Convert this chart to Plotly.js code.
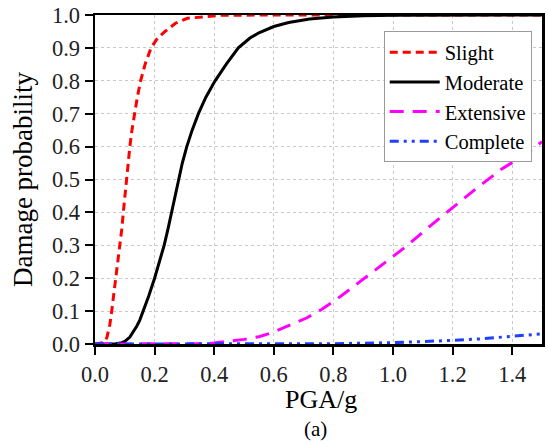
<!DOCTYPE html>
<html>
<head>
<meta charset="utf-8">
<script src="https://cdn.plot.ly/plotly-3.0.1.min.js"></script>
<style>
  html, body { margin: 0; padding: 0; background: #fff; }
  #chart { width: 548px; height: 447px; }
</style>
</head>
<body>
<div id="chart"></div>
<script>
// Values (PGA in g, probability of exceedance)
const slightX = [0.00, 0.03, 0.04, 0.05, 0.056, 0.063, 0.070, 0.077, 0.084, 0.090, 0.095, 0.100, 0.106, 0.111, 0.117, 0.124, 0.132, 0.142, 0.153, 0.168, 0.188, 0.21, 0.235, 0.27, 0.31, 0.36, 0.42, 0.60, 1.00, 1.50];
const slightY = [0.00, 0.004, 0.02, 0.06, 0.10, 0.15, 0.20, 0.25, 0.30, 0.35, 0.40, 0.45, 0.50, 0.55, 0.60, 0.65, 0.70, 0.75, 0.80, 0.85, 0.90, 0.93, 0.95, 0.975, 0.99, 0.995, 0.999, 1.00, 1.00, 1.00];

const moderateX = [0.00, 0.07, 0.09, 0.10, 0.117, 0.13, 0.14, 0.15, 0.162, 0.18, 0.20, 0.216, 0.232, 0.245, 0.257, 0.267, 0.28, 0.293, 0.308, 0.326, 0.347, 0.372, 0.403, 0.44, 0.481, 0.52, 0.55, 0.60, 0.65, 0.72, 0.80, 0.90, 1.00, 1.50];
const moderateY = [0.00, 0.0006, 0.004, 0.008, 0.021, 0.038, 0.054, 0.072, 0.10, 0.145, 0.20, 0.25, 0.30, 0.35, 0.40, 0.45, 0.50, 0.55, 0.60, 0.65, 0.70, 0.75, 0.80, 0.85, 0.90, 0.93, 0.946, 0.965, 0.977, 0.988, 0.994, 0.998, 0.999, 1.00];

const extensiveX = [0.00, 0.20, 0.30, 0.35, 0.40, 0.45, 0.50, 0.55, 0.59, 0.63, 0.66, 0.71, 0.76, 0.805, 0.887, 0.965, 1.043, 1.122, 1.202, 1.284, 1.365, 1.449, 1.50];
const extensiveY = [0.00, 0.00, 0.0005, 0.001, 0.003, 0.008, 0.014, 0.022, 0.033, 0.048, 0.060, 0.079, 0.105, 0.132, 0.188, 0.241, 0.296, 0.357, 0.417, 0.476, 0.532, 0.579, 0.615];

const completeX = [0.00, 0.60, 0.80, 1.00, 1.10, 1.20, 1.30, 1.36, 1.42, 1.50];
const completeY = [0.00, 0.00, 0.001, 0.004, 0.007, 0.011, 0.016, 0.021, 0.025, 0.031];

const seriesNames = ["Slight", "Moderate", "Extensive", "Complete"];
const xTitle = "PGA/g";
const yTitle = "Damage probability";
const panelLabel = "(a)";

const serif = "Liberation Serif";

const traces = [
  {x: slightX, y: slightY, name: seriesNames[0], mode: "lines",
   line: {color: "#ff0000", width: 3, dash: "8px,5px"}},
  {x: moderateX, y: moderateY, name: seriesNames[1], mode: "lines",
   line: {color: "#000000", width: 3}},
  {x: extensiveX, y: extensiveY, name: seriesNames[2], mode: "lines",
   line: {color: "#ff00ff", width: 3, dash: "14px,9px"}},
  {x: completeX, y: completeY, name: seriesNames[3], mode: "lines",
   line: {color: "#1f3fff", width: 3, dash: "9px,5px,3px,5px,3px,5px"}}
];

const layout = {
  width: 548, height: 447,
  margin: {l: 95, r: 6, t: 15, b: 103},
  paper_bgcolor: "#ffffff", plot_bgcolor: "#ffffff",
  font: {family: serif, color: "#000000", size: 22},
  showlegend: true,
  legend: {
    x: 0.977, xanchor: "right", y: 0.95, yanchor: "top",
    bgcolor: "#ffffff", bordercolor: "#9a9a9a", borderwidth: 1,
    font: {family: serif, size: 20.5, color: "#000000"},
    itemwidth: 50, tracegroupgap: 0
  },
  xaxis: {
    range: [0, 1.5], dtick: 0.2, tick0: 0, tickformat: ".1f",
    showline: true, linecolor: "#000000", linewidth: 2.5, mirror: true,
    ticks: "outside", ticklen: 8, tickwidth: 2, tickcolor: "#000000",
    showgrid: true, gridcolor: "#c8c8c8", griddash: "dot", gridwidth: 1,
    zeroline: false,
    tickfont: {family: serif, size: 22.5, color: "#222222"}
  },
  yaxis: {
    range: [0, 1.0], dtick: 0.1, tick0: 0, tickformat: ".1f",
    showline: true, linecolor: "#000000", linewidth: 2.5, mirror: true,
    ticks: "outside", ticklen: 8, tickwidth: 2, tickcolor: "#000000",
    showgrid: true, gridcolor: "#c8c8c8", griddash: "dot", gridwidth: 1,
    zeroline: false,
    tickfont: {family: serif, size: 22.5, color: "#222222"},
    title: {text: yTitle, font: {family: serif, size: 27, color: "#000000"}, standoff: 12}
  },
  annotations: [
    {text: xTitle, xref: "paper", yref: "paper", x: 0.505, y: -0.168, yanchor: "middle",
     showarrow: false, font: {family: serif, size: 26, color: "#000000"}},
    {text: panelLabel, xref: "paper", yref: "paper", x: 0.493, y: -0.258, yanchor: "middle",
     showarrow: false, font: {family: serif, size: 21, color: "#000000"}}
  ]
};

Plotly.newPlot("chart", traces, layout, {displayModeBar: false, staticPlot: true});
</script>
</body>
</html>
